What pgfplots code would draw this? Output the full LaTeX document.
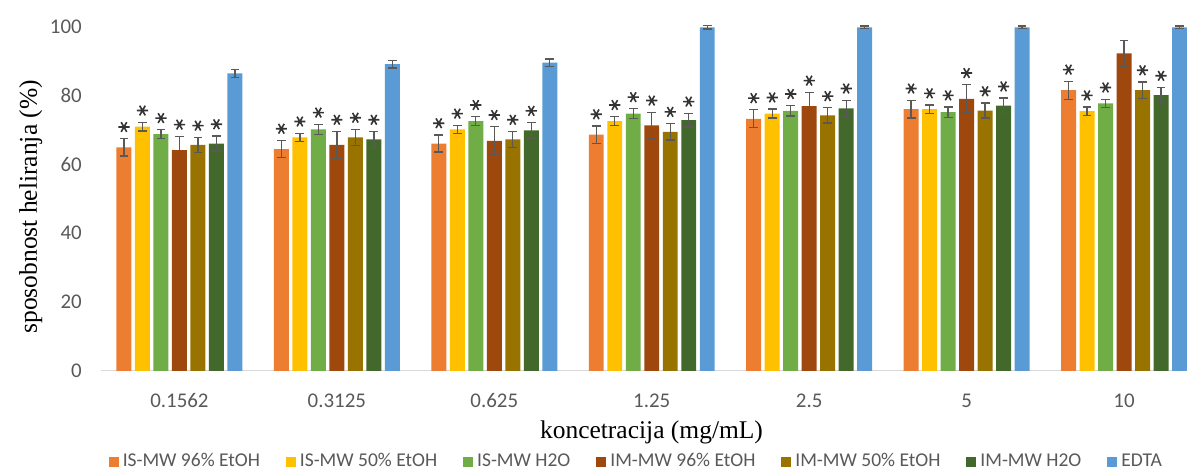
\documentclass[border=0pt]{standalone}
\usepackage{pgfplots}
\usepackage{pgfplotstable}
\pgfplotsset{compat=1.18}
\usepackage{fontspec}
\setmainfont{Carlito}
\newfontfamily\seriffont{Liberation Serif}
\definecolor{cA}{HTML}{ED7D31}
\definecolor{cB}{HTML}{FFC000}
\definecolor{cC}{HTML}{70AD47}
\definecolor{cD}{HTML}{9E480E}
\definecolor{cE}{HTML}{997300}
\definecolor{cF}{HTML}{43682B}
\definecolor{cG}{HTML}{5B9BD5}
\definecolor{tickgray}{HTML}{595959}
\definecolor{errgray}{HTML}{595959}
\definecolor{axgray}{HTML}{D9D9D9}

\pgfplotstableread{
g y e s
0 65.0 2.5 1
1 64.5 2.5 1
2 66.1 2.5 1
3 68.7 2.5 1
4 73.3 2.6 1
5 76.1 2.6 1
6 81.6 2.6 1
}\sA
\pgfplotstableread{
g y e s
0 71.0 1.3 1
1 67.9 1.2 1
2 70.2 1.2 1
3 72.6 1.3 1
4 74.8 1.3 1
5 76.1 1.2 1
6 75.5 1.2 1
}\sB
\pgfplotstableread{
g y e s
0 68.8 1.3 1
1 70.2 1.5 1
2 72.6 1.3 1
3 74.8 1.4 1
4 75.6 1.5 1
5 75.2 1.5 1
6 77.8 1.2 1
}\sC
\pgfplotstableread{
g y e s
0 64.2 4.0 1
1 65.7 3.9 1
2 66.9 4.1 1
3 71.4 3.8 1
4 77.0 4.0 1
5 79.1 4.1 1
6 92.3 3.8 0
}\sD
\pgfplotstableread{
g y e s
0 65.7 2.2 1
1 67.9 2.3 1
2 67.3 2.3 1
3 69.5 2.4 1
4 74.3 2.2 1
5 75.7 2.2 1
6 81.6 2.4 1
}\sE
\pgfplotstableread{
g y e s
0 66.1 2.2 1
1 67.3 2.3 1
2 69.9 2.3 1
3 72.9 2.0 1
4 76.3 2.4 1
5 77.1 2.2 1
6 80.2 2.2 1
}\sF
\pgfplotstableread{
g y e s
0 86.5 1.2 0
1 89.2 1.1 0
2 89.6 1.1 0
3 99.9 0.5 0
4 99.9 0.4 0
5 99.9 0.4 0
6 99.9 0.4 0
}\sG

\def\off{0.1175}

\pgfplotsset{
  mybar/.style={ybar, bar width=0.095, bar shift=0pt, draw=none, fill=#1,
    legend image code/.code={\fill[##1] (0bp,-2.5bp) rectangle (5bp,2.5bp);},
    error bars/.cd, y dir=both, y explicit,
    error bar style={errgray, line width=0.65bp},
    error mark options={errgray, line width=0.65bp, mark size=2.2bp, rotate=90}},
  mystar/.style={only marks, mark=asterisk, mark size=2.8bp, color=black!80, line width=0.8bp,
    mark options={rotate=90}, forget plot, restrict expr to domain={\thisrow{s}}{1:1}},
}

\begin{document}
\begin{tikzpicture}
\begin{axis}[
  scale only axis,
  width=543.5bp, height=172bp,
  xmin=-0.5, xmax=6.4,
  ymin=0, ymax=100,
  ytick={0,20,40,60,80,100},
  xtick={0,1,2,3,4,5,6},
  xticklabels={0.1562,0.3125,0.625,1.25,2.5,5,10},
  major tick length=0pt,
  axis x line*=bottom,
  axis y line*=left,
  axis line style={-},
  x axis line style={draw=axgray, line width=0.7bp},
  y axis line style={draw=none},
  /pgf/number format/assume math mode=true,
  tick label style={font=\fontsize{10.5}{12}\selectfont, text=tickgray},
  xticklabel style={yshift=-8bp},
  yticklabel style={xshift=-6bp},
  xlabel={koncetracija (mg/mL)},
  ylabel={sposobnost heliranja (\%)},
  label style={font=\seriffont\fontsize{12.8}{14}\selectfont, text=black},
  xlabel style={at={(axis description cs:0.507,-0.18)}, anchor=center},
  ylabel style={at={(axis description cs:-0.0644,0.477)}, anchor=center},
  legend columns=7,
  legend style={at={(axis description cs:0.494,-0.2645)}, anchor=center, draw=none,
    font=\fontsize{9.8}{11}\selectfont, text=tickgray,
    /tikz/every even column/.append style={column sep=11bp},
    inner sep=0pt},
  clip=false,
]
\coordinate (A) at (rel axis cs:0,0);
\coordinate (B) at (rel axis cs:1,1);
\addplot[mybar=cA] table[x expr=\thisrow{g}-3*\off, y=y, y error=e]{\sA};
\addlegendentry{IS-MW 96\% EtOH}
\addplot[mybar=cB] table[x expr=\thisrow{g}-2*\off, y=y, y error=e]{\sB};
\addlegendentry{IS-MW 50\% EtOH}
\addplot[mybar=cC] table[x expr=\thisrow{g}-1*\off, y=y, y error=e]{\sC};
\addlegendentry{IS-MW H2O}
\addplot[mybar=cD] table[x expr=\thisrow{g}, y=y, y error=e]{\sD};
\addlegendentry{IM-MW 96\% EtOH}
\addplot[mybar=cE] table[x expr=\thisrow{g}+1*\off, y=y, y error=e]{\sE};
\addlegendentry{IM-MW 50\% EtOH}
\addplot[mybar=cF] table[x expr=\thisrow{g}+2*\off, y=y, y error=e]{\sF};
\addlegendentry{IM-MW H2O}
\addplot[mybar=cG] table[x expr=\thisrow{g}+3*\off, y=y, y error=e]{\sG};
\addlegendentry{EDTA}
\addplot[mystar] table[x expr=\thisrow{g}-3*\off, y expr=\thisrow{y}+\thisrow{e}+3.4]{\sA};
\addplot[mystar] table[x expr=\thisrow{g}-2*\off, y expr=\thisrow{y}+\thisrow{e}+3.4]{\sB};
\addplot[mystar] table[x expr=\thisrow{g}-1*\off, y expr=\thisrow{y}+\thisrow{e}+3.4]{\sC};
\addplot[mystar] table[x expr=\thisrow{g}, y expr=\thisrow{y}+\thisrow{e}+3.4]{\sD};
\addplot[mystar] table[x expr=\thisrow{g}+1*\off, y expr=\thisrow{y}+\thisrow{e}+3.4]{\sE};
\addplot[mystar] table[x expr=\thisrow{g}+2*\off, y expr=\thisrow{y}+\thisrow{e}+3.4]{\sF};
\end{axis}
\pgfresetboundingbox
\path ([xshift=-50.4bp,yshift=-51bp]A) rectangle ([yshift=13.5bp]B);
\end{tikzpicture}
\end{document}
